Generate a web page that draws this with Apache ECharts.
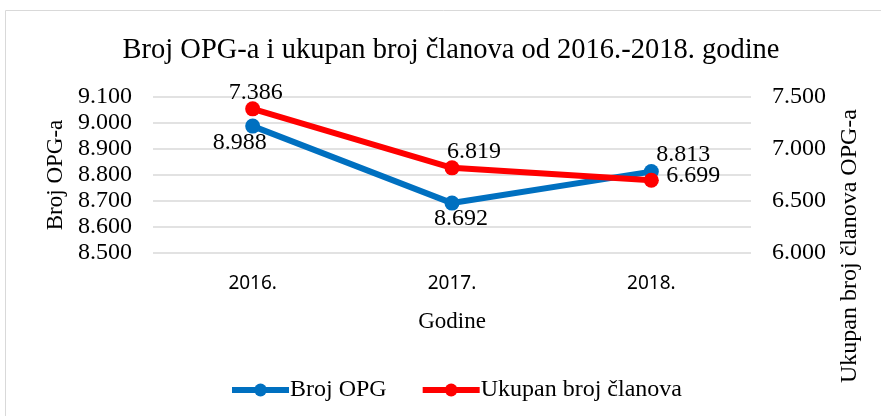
<!DOCTYPE html>
<html>
<head>
<meta charset="utf-8">
<script src="https://cdn.jsdelivr.net/npm/echarts@6/dist/echarts.min.js"></script>
<style>
  html, body { margin: 0; padding: 0; background: #fff; }
  #chart { width: 881px; height: 416px; }
</style>
</head>
<body>
<div id="chart"></div>
<script>
const years = ["2016.", "2017.", "2018."];
const brojOpg = [8988, 8692, 8813];
const ukupanClanova = [7386, 6819, 6699];
const leftTicks = { min: 8500, max: 9100, interval: 100 };
const rightTicks = { min: 6000, max: 7500, interval: 500 };

// label offsets, picked by eye to sit where Excel put them
const opgOffsets = [[-13, 17], [9, 16], [32, -17]];
const clanOffsets = [[3, -16], [22, -16], [42, -5]];

const serif = "Liberation Serif";

function fmt(v) {
  // Croatian style: dot as thousands separator
  return (v / 1000).toFixed(3);
}

function labelled(values, offsets) {
  return values.map((v, i) => ({
    value: v,
    label: { position: "inside", offset: offsets[i] },
  }));
}

document.addEventListener("DOMContentLoaded", function () {
  const chart = echarts.init(document.getElementById("chart"));
  const option = {
    animation: false,
    title: {
      text: "Broj OPG-a i ukupan broj članova od 2016.-2018. godine",
      left: 446,
      textAlign: "center",
      top: 31,
      textStyle: { fontFamily: serif, fontSize: 28.5, fontWeight: "normal", color: "#000" },
    },
    graphic: [
      {
        type: "rect",
        shape: { x: 5.5, y: 10.5, width: 900, height: 420 },
        style: { fill: "none", stroke: "#d9d9d9", lineWidth: 1 },
        silent: true,
      },
      {
        type: "text",
        x: 850,
        y: 246,
        rotation: Math.PI / 2,
        style: {
          text: "Ukupan broj članova OPG-a",
          fontFamily: serif,
          fontSize: 24,
          fill: "#000",
          align: "center",
          verticalAlign: "middle",
        },
      },
    ],
    legend: {
      data: ["Broj OPG", "Ukupan broj članova"],
      left: 224,
      top: 373,
      itemWidth: 57,
      itemHeight: 16,
      itemGap: 33,
      lineStyle: { width: 6 },
      textStyle: { fontFamily: serif, fontSize: 24, color: "#000", padding: [0, 0, 0, -4] },
    },
    grid: { left: 153, right: 130, top: 97, bottom: 163 },
    xAxis: {
      type: "category",
      data: years,
      boundaryGap: true,
      name: "Godine",
      nameLocation: "middle",
      nameGap: 57,
      nameTextStyle: { fontFamily: serif, fontSize: 23, color: "#000" },
      axisLine: { show: false },
      axisTick: { show: false },
      axisLabel: { margin: 21, fontFamily: "Noto Sans", fontSize: 19, color: "#000" },
    },
    yAxis: [
      {
        type: "value",
        min: leftTicks.min,
        max: leftTicks.max,
        interval: leftTicks.interval,
        name: "Broj OPG-a",
        nameLocation: "middle",
        nameGap: 84,
        nameTextStyle: { fontFamily: serif, fontSize: 23, color: "#000" },
        axisLabel: { margin: 21, fontFamily: serif, fontSize: 24, color: "#000", formatter: fmt },
        splitLine: { lineStyle: { color: "#d9d9d9", width: 1.5 } },
        axisLine: { show: false },
        axisTick: { show: false },
      },
      {
        type: "value",
        min: rightTicks.min,
        max: rightTicks.max,
        interval: rightTicks.interval,
        position: "right",
        axisLabel: { margin: 21, fontFamily: serif, fontSize: 24, color: "#000", formatter: fmt },
        splitLine: { show: false },
        axisLine: { show: false },
        axisTick: { show: false },
      },
    ],
    series: [
      {
        name: "Broj OPG",
        type: "line",
        yAxisIndex: 0,
        data: labelled(brojOpg, opgOffsets),
        symbol: "circle",
        symbolSize: 15,
        lineStyle: { width: 6, color: "#0070C0" },
        itemStyle: { color: "#0070C0" },
        label: {
          show: true,
          fontFamily: serif,
          fontSize: 24,
          color: "#000",
          formatter: (p) => fmt(p.value),
        },
      },
      {
        name: "Ukupan broj članova",
        type: "line",
        yAxisIndex: 1,
        data: labelled(ukupanClanova, clanOffsets),
        symbol: "circle",
        symbolSize: 15,
        lineStyle: { width: 6, color: "#FF0000" },
        itemStyle: { color: "#FF0000" },
        label: {
          show: true,
          fontFamily: serif,
          fontSize: 24,
          color: "#000",
          formatter: (p) => fmt(p.value),
        },
      },
    ],
  };
  chart.setOption(option);

  window.addEventListener("resize", function () {
    chart.resize();
  });
});
</script>
</body>
</html>
